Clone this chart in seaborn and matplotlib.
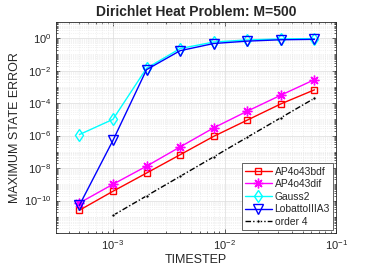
import numpy as np
import pandas as pd
import matplotlib
matplotlib.use("Agg")
import matplotlib.pyplot as plt
import seaborn as sns
from matplotlib.ticker import FixedLocator, LogLocator, FuncFormatter, NullFormatter

# ============ Data ============
timestep = [5e-4, 1e-3, 2e-3, 4e-3, 8e-3, 1.6e-2, 3.2e-2, 6.4e-2]
err_bdf = [2.5e-11, 3.7e-10, 4.9e-9, 6.6e-8, 9.0e-7, 9.0e-6, 9.0e-5, 6.6e-4]
err_dif = [7.0e-11, 1.0e-9, 1.3e-8, 2.0e-7, 3.0e-6, 3.2e-5, 3.1e-4, 2.8e-3]
err_gauss = [1.15e-6, 1.0e-5, 1.4e-2, 0.23, 0.58, 0.78, 0.9, 0.95]
err_lobatto = [5.0e-11, 5.0e-7, 1.15e-2, 0.17, 0.47, 0.66, 0.8, 0.85]
order_x = [1e-3, 2e-3, 4e-3, 8e-3, 1.6e-2, 3.2e-2, 6.4e-2]
order_y = [1.2e-11, 1.92e-10, 3.07e-9, 4.9e-8, 7.9e-7, 1.26e-5, 2.0e-4]

x_ticks = [1e-3, 1e-2, 1e-1]
y_ticks = [1e-10, 1e-8, 1e-6, 1e-4, 1e-2, 1e0]

# ============ Style ============
sns.set_style("ticks")
plt.rcParams['font.family'] = ['Liberation Sans', 'DejaVu Sans']
plt.rcParams['mathtext.default'] = 'regular'

fig = plt.figure(figsize=(3.71, 2.78), dpi=100)
ax = fig.add_axes([0.151, 0.162, 0.755, 0.759])

series = [
    ("AP4o43bdf", timestep, err_bdf, dict(color="red", marker="s", markersize=5,
                                          markerfacecolor="none", markeredgecolor="red")),
    ("AP4o43dif", timestep, err_dif, dict(color="magenta", marker=(8, 2, 0), markersize=7,
                                          markerfacecolor="magenta", markeredgecolor="magenta")),
    ("Gauss2", timestep, err_gauss, dict(color="cyan", marker="d", markersize=6,
                                         markerfacecolor="none", markeredgecolor="cyan")),
    ("LobattoIIIA3", timestep, err_lobatto, dict(color="blue", marker="v", markersize=7,
                                                 markerfacecolor="none", markeredgecolor="blue")),
]

for name, xs, ys, kw in series:
    df = pd.DataFrame({"x": xs, "y": ys})
    sns.lineplot(data=df, x="x", y="y", ax=ax, label=name, linewidth=1.0,
                 markeredgewidth=1.0, **kw)

df_o = pd.DataFrame({"x": order_x, "y": order_y})
sns.lineplot(data=df_o, x="x", y="y", ax=ax, label="order 4", color="black",
             linestyle=(0, (4, 1.5, 1, 1.5)), linewidth=1.0, marker=".", markersize=5)

ax.set_xscale("log")
ax.set_yscale("log")
ax.set_xlim(10 ** -3.51, 1e-1)
ax.set_ylim(1e-12, 1e1)

fmt = FuncFormatter(lambda v, p: "$10^{%d}$" % round(np.log10(v)))
ax.xaxis.set_major_locator(FixedLocator(x_ticks))
ax.yaxis.set_major_locator(FixedLocator(y_ticks))
ax.xaxis.set_major_formatter(fmt)
ax.yaxis.set_major_formatter(fmt)
ax.xaxis.set_minor_locator(LogLocator(base=10, subs=np.arange(1, 10), numticks=100))
ax.yaxis.set_minor_locator(LogLocator(base=10, subs=np.arange(1, 10), numticks=100))
ax.xaxis.set_minor_formatter(NullFormatter())
ax.yaxis.set_minor_formatter(NullFormatter())

ax.grid(True, which="major", color="#dcdcdc", linewidth=0.5)
ax.grid(True, which="minor", color="#e6e6e6", linewidth=0.5, linestyle=":")
ax.set_axisbelow(True)

for s in ax.spines.values():
    s.set_color("#262626")
    s.set_linewidth(0.6)
ax.tick_params(which="both", direction="in", top=True, right=True,
               colors="#262626", labelsize=8, width=0.5)
ax.tick_params(which="major", length=3)
ax.tick_params(which="minor", length=1.5)

ax.set_title("Dirichlet Heat Problem: M=500", fontsize=10, fontweight="bold", pad=4)
ax.set_xlabel("TIMESTEP", fontsize=9, color="#262626", labelpad=2)
ax.set_ylabel("MAXIMUM STATE ERROR", fontsize=9, color="#262626", labelpad=2)

leg = ax.legend(loc="lower right", fontsize=7.4, frameon=True, fancybox=False,
                edgecolor="#262626", framealpha=1, borderaxespad=0.3,
                handlelength=2.6, labelspacing=0.25, handletextpad=0.3,
                borderpad=0.3)
leg.get_frame().set_linewidth(0.5)

fig.savefig("out.png", dpi=100)
